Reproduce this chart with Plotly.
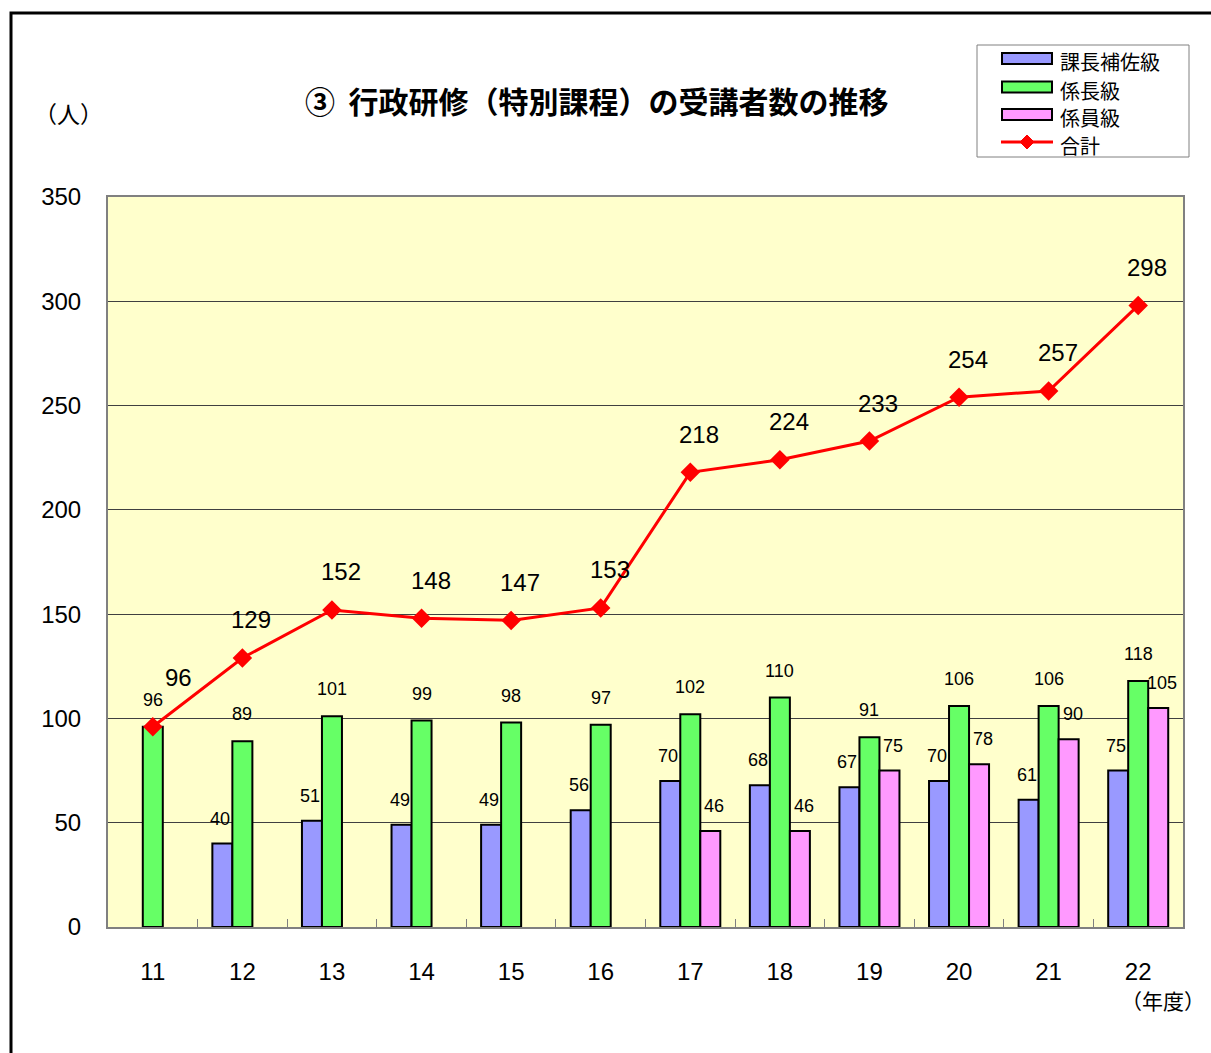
import plotly.graph_objects as go

# ---- data ----
years = ["11", "12", "13", "14", "15", "16", "17", "18", "19", "20", "21", "22"]
kacho_hosa = [None, 40, 51, 49, 49, 56, 70, 68, 67, 70, 61, 75]      # 課長補佐級
kakaricho = [96, 89, 101, 99, 98, 97, 102, 110, 91, 106, 106, 118]   # 係長級
kakariin = [None, None, None, None, None, None, 46, 46, 75, 78, 90, 105]  # 係員級
total = [96, 129, 152, 148, 147, 153, 218, 224, 233, 254, 257, 298]  # 合計
y_ticks = [0, 50, 100, 150, 200, 250, 300, 350]

series_names = ["課長補佐級", "係長級", "係員級", "合計"]
colors = ["#9999FF", "#66FF66", "#FF99FF", "#FF0000"]

# ---- layout geometry ----
W, H = 1211, 1053
L, R, T, B = 108, 28, 197, 126
PW, PH = W - L - R, H - T - B


def px(x):
    return (x - L) / PW


def py(y):
    return (H - B - y) / PH


NUM_FONT = "Liberation Sans, Arial, Noto Sans CJK JP, sans-serif"
JP_FONT = "Noto Sans CJK JP, sans-serif"

fig = go.Figure()
for name, vals, col in zip(series_names[:3], [kacho_hosa, kakaricho, kakariin], colors[:3]):
    fig.add_trace(go.Bar(
        x=years, y=vals, name=name,
        marker=dict(color=col, line=dict(color="black", width=2)),
        showlegend=False,
    ))

fig.add_trace(go.Scatter(
    x=years, y=total, name=series_names[3], mode="lines+markers",
    line=dict(color=colors[3], width=3),
    marker=dict(symbol="diamond", size=15, color=colors[3]),
    showlegend=False, cliponaxis=False,
))

annotations = []
# bar value labels (x given as category index)
for vals, xs, ys in zip([kacho_hosa, kakaricho, kakariin], [-22, 0, 24], [13, 15, 13]):
    for i, v in enumerate(vals):
        if v is None:
            continue
        annotations.append(dict(
            x=i, y=v, xref="x", yref="y", text=str(v), showarrow=False,
            xshift=xs, yshift=ys, yanchor="bottom",
            font=dict(size=18, color="black", family=NUM_FONT),
        ))

# total labels
for i, v in enumerate(total):
    xs, ys = (26, 49) if i == 0 else (9, 38)
    annotations.append(dict(
        x=i, y=v, xref="x", yref="y", text=str(v), showarrow=False,
        xshift=xs, yshift=ys, yanchor="middle",
        font=dict(size=24, color="black", family=NUM_FONT),
    ))

# title and unit labels
annotations.append(dict(
    x=px(597), y=py(100), xref="paper", yref="paper",
    text="<b>③  行政研修（特別課程）の受講者数の推移</b>", showarrow=False,
    xanchor="center", yanchor="middle",
    font=dict(size=30, color="black", family=JP_FONT),
))
annotations.append(dict(
    x=px(68), y=py(113), xref="paper", yref="paper", text="（人）",
    showarrow=False, xanchor="center", yanchor="middle",
    font=dict(size=23, color="black", family=JP_FONT),
))
annotations.append(dict(
    x=px(1163), y=py(1000), xref="paper", yref="paper", text="（年度）",
    showarrow=False, xanchor="center", yanchor="middle",
    font=dict(size=21, color="black", family=JP_FONT),
))

shapes = []
# outer frame
shapes.append(dict(type="rect", xref="paper", yref="paper",
                   x0=px(11), x1=px(1300), y0=py(1200), y1=py(13),
                   line=dict(color="black", width=3), fillcolor="rgba(0,0,0,0)", layer="below"))

# manual legend
shapes.append(dict(type="rect", xref="paper", yref="paper",
                   x0=px(977), x1=px(1189), y0=py(157), y1=py(45),
                   line=dict(color="#808080", width=1), fillcolor="white"))
leg_y = [58.5, 87, 114.5]
for cy, col in zip(leg_y, colors[:3]):
    shapes.append(dict(type="rect", xref="paper", yref="paper",
                       x0=px(1002), x1=px(1052), y0=py(cy + 5.5), y1=py(cy - 5.5),
                       line=dict(color="black", width=2), fillcolor=col))
shapes.append(dict(type="line", xref="paper", yref="paper",
                   x0=px(1001), x1=px(1053), y0=py(142), y1=py(142),
                   line=dict(color=colors[3], width=3)))
cx, cy, d = 1027, 142, 7
shapes.append(dict(type="path", xref="paper", yref="paper",
                   path=f"M {px(cx - d)} {py(cy)} L {px(cx)} {py(cy - d)} L {px(cx + d)} {py(cy)} L {px(cx)} {py(cy + d)} Z",
                   line=dict(color=colors[3], width=1), fillcolor=colors[3]))
for name, ty in zip(series_names, [62, 90, 117.5, 146]):
    annotations.append(dict(
        x=px(1058), y=py(ty), xref="paper", yref="paper", text=name,
        showarrow=False, xanchor="left", yanchor="middle",
        font=dict(size=20, color="black", family=JP_FONT),
    ))

fig.update_layout(
    width=W, height=H,
    margin=dict(l=L, r=R, t=T, b=B, pad=0),
    paper_bgcolor="white",
    plot_bgcolor="#FFFFCC",
    barmode="group", bargap=0.33, bargroupgap=0,
    showlegend=False,
    annotations=annotations,
    shapes=shapes,
    xaxis=dict(
        type="category", categoryorder="array", categoryarray=years,
        range=[-0.5, len(years) - 0.5], autorange=False,
        showline=True, mirror=True, linecolor="#808080", linewidth=2,
        ticks="inside", tickson="boundaries", ticklen=8, tickcolor="#808080", tickwidth=1,
        showgrid=False, ticklabelstandoff=22,
        tickfont=dict(size=24, color="black", family=NUM_FONT),
    ),
    yaxis=dict(
        range=[0, 350], tickvals=y_ticks, ticktext=[str(v) for v in y_ticks],
        showline=True, mirror=True, linecolor="#808080", linewidth=2,
        showgrid=True, gridcolor="#404040", gridwidth=1, zeroline=False,
        ticks="", ticklabelstandoff=20,
        tickfont=dict(size=24, color="black", family=NUM_FONT),
    ),
)

fig.write_html(
    "out.html",
    config={"displayModeBar": False},
    post_script="document.body.style.margin='0';document.body.style.overflow='hidden';",
)
